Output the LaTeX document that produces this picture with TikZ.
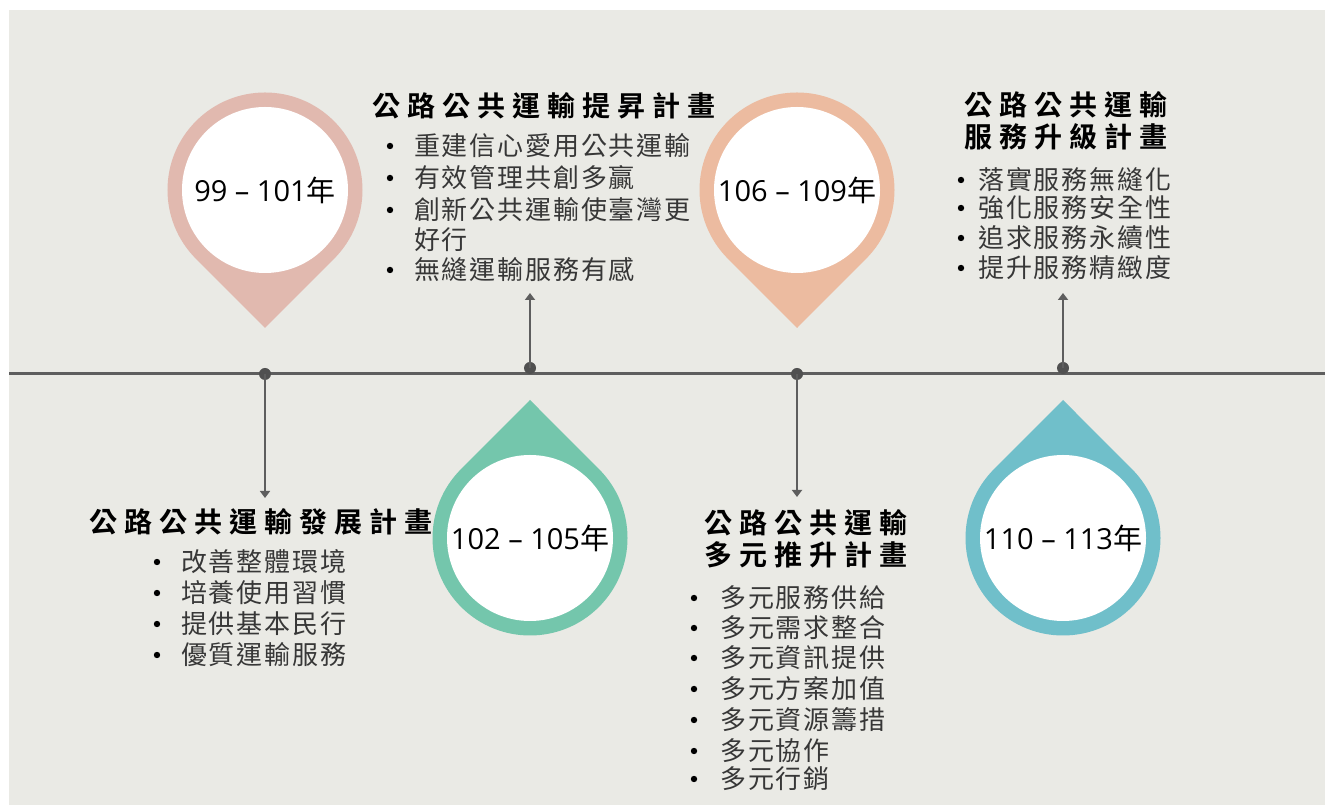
\documentclass[tikz,border=0pt]{standalone}
\usepackage{fontspec}
\setmainfont{Open Sans}
\newfontfamily\cjk{Noto Sans CJK TC}
\newfontfamily\cjkitem{Noto Sans CJK TC}[LetterSpace=7]
\newfontfamily\cjktitle{Noto Sans CJK TC Bold}[LetterSpace=25]
\usetikzlibrary{arrows.meta}
\definecolor{panelgray}{RGB}{234,234,229}
\definecolor{linegray}{RGB}{94,94,94}
\definecolor{pinrose}{RGB}{225,185,175}
\definecolor{pingreen}{RGB}{116,198,172}
\definecolor{pinpeach}{RGB}{236,187,160}
\definecolor{pinteal}{RGB}{112,191,202}
\definecolor{itemtext}{RGB}{55,55,55}
\begin{document}
\begin{tikzpicture}[x=1pt,y=1pt,
  timeline/.style={draw=linegray,line width=3pt},
  dot/.style={circle,fill=linegray!85!black,minimum size=12pt,inner sep=0pt},
  conn/.style={draw=linegray,line width=2.4pt,-{Triangle[width=10pt,length=7pt]}},
  yearcircle/.style={circle,fill=white,minimum size=166pt,inner sep=0pt,font=\fontsize{29}{34}\selectfont},
  plantitle/.style={font=\cjktitle\fontsize{28}{32}\selectfont,align=center,inner sep=0pt},
  planitem/.style={anchor=west,inner sep=0pt,text=itemtext,font=\cjkitem\fontsize{26}{31}\selectfont}]
\useasboundingbox (0,0) rectangle (1325,805);
\fill[white] (0,0) rectangle (1325,805);
\fill[panelgray] (9,0) rectangle (1325,795);
% time line
\coordinate (tl-w) at (9,431);
\coordinate (tl-e) at (1325,431);
\draw[timeline] (tl-w) -- (tl-e);
% pins
\fill[pinrose] (265,477) -- (333.94,546.06) arc[start angle=-45,end angle=225,radius=97.5] -- cycle;
\node[yearcircle] (y99) at (265,615) {99 – 101{\cjk 年}};
\fill[pingreen] (530,405) -- (461.06,335.94) arc[start angle=135,end angle=405,radius=97.5] -- cycle;
\node[yearcircle] (y102) at (530,267) {102 – 105{\cjk 年}};
\fill[pinpeach] (797,477) -- (865.94,546.06) arc[start angle=-45,end angle=225,radius=97.5] -- cycle;
\node[yearcircle] (y106) at (797,615) {106 – 109{\cjk 年}};
\fill[pinteal] (1063,405) -- (994.06,335.94) arc[start angle=135,end angle=405,radius=97.5] -- cycle;
\node[yearcircle] (y110) at (1063,267) {110 – 113{\cjk 年}};
% dots and arrows
\node[dot] (d99) at (265,431) {};
\node[dot] (d102) at (530,437) {};
\node[dot] (d106) at (797,431) {};
\node[dot] (d110) at (1063,437) {};
\coordinate (a99) at (265,307);
\coordinate (a102) at (530,512);
\coordinate (a106) at (797,308);
\coordinate (a110) at (1063,512);
\draw[conn] (d99.center) -- (a99);
\draw[conn] (d102.center) -- (a102);
\draw[conn] (d106.center) -- (a106);
\draw[conn] (d110.center) -- (a110);
% 99-101
\node[plantitle] (t99) at (260.5,283) {公路公共運輸發展計畫};
\fill (157,243) circle(3.2pt);
\node[planitem] (i99a) at (181,243) {改善整體環境};
\fill (157,212) circle(3.2pt);
\node[planitem] (i99b) at (181,212) {培養使用習慣};
\fill (157,181) circle(3.2pt);
\node[planitem] (i99c) at (181,181) {提供基本民行};
\fill (157,150) circle(3.2pt);
\node[planitem] (i99d) at (181,150) {優質運輸服務};
% 102-105
\node[plantitle] (t102) at (543.5,699) {公路公共運輸提昇計畫};
\fill (390,659) circle(3.2pt);
\node[planitem] (i102a) at (414,659) {重建信心愛用公共運輸};
\fill (390,627) circle(3.2pt);
\node[planitem] (i102b) at (414,627) {有效管理共創多贏};
\fill (390,595) circle(3.2pt);
\node[planitem] (i102c) at (414,595) {創新公共運輸使臺灣更};
\node[planitem] (i102d) at (414,565) {好行};
\fill (390,535) circle(3.2pt);
\node[planitem] (i102e) at (414,535) {無縫運輸服務有感};
% 106-109
\node[plantitle] (t106) at (805.5,266.5) {公路公共運輸\\多元推升計畫};
\fill (694,207) circle(3.2pt);
\node[planitem] (i106a) at (720,207) {多元服務供給};
\fill (694,177) circle(3.2pt);
\node[planitem] (i106b) at (720,177) {多元需求整合};
\fill (694,147) circle(3.2pt);
\node[planitem] (i106c) at (720,147) {多元資訊提供};
\fill (694,116) circle(3.2pt);
\node[planitem] (i106d) at (720,116) {多元方案加值};
\fill (694,85) circle(3.2pt);
\node[planitem] (i106e) at (720,85) {多元資源籌措};
\fill (694,54) circle(3.2pt);
\node[planitem] (i106f) at (720,54) {多元協作};
\fill (694,26) circle(3.2pt);
\node[planitem] (i106g) at (720,26) {多元行銷};
% 110-113
\node[plantitle] (t110) at (1065.5,684) {公路公共運輸\\服務升級計畫};
\fill (961,625) circle(3.2pt);
\node[planitem] (i110a) at (978,625) {落實服務無縫化};
\fill (961,597) circle(3.2pt);
\node[planitem] (i110b) at (978,597) {強化服務安全性};
\fill (961,567) circle(3.2pt);
\node[planitem] (i110c) at (978,567) {追求服務永續性};
\fill (961,537) circle(3.2pt);
\node[planitem] (i110d) at (978,537) {提升服務精緻度};
\end{tikzpicture}
\end{document}
